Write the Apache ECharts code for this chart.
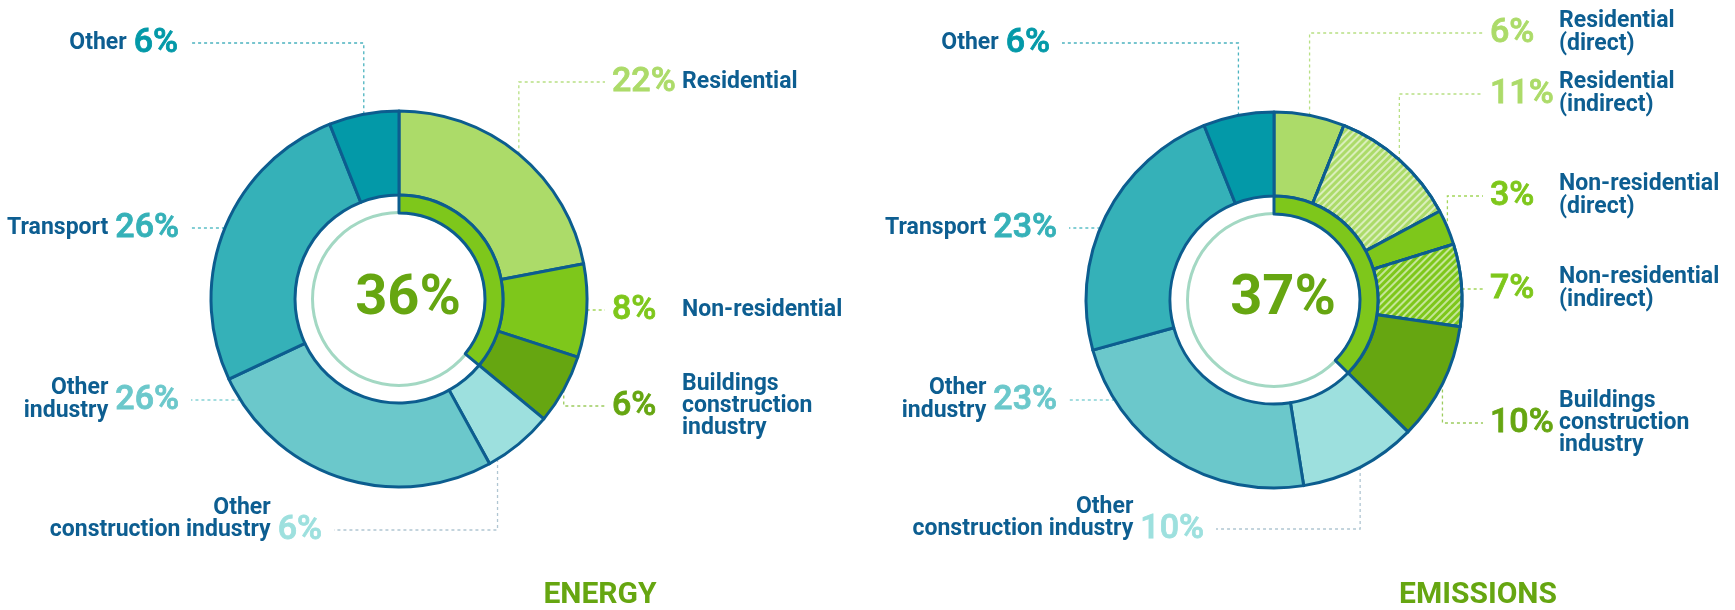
<!DOCTYPE html>
<html>
<head>
<meta charset="utf-8">
<script src="https://cdn.jsdelivr.net/npm/echarts@6/dist/echarts.min.js"></script>
<style>
html, body { margin: 0; padding: 0; background: #fff; }
#main { width: 1735px; height: 610px; }
</style>
</head>
<body>
<div id="main"></div>
<script>
// ---- data ----
var energyNames = ['Residential', 'Non-residential', 'Buildings\nconstruction\nindustry', 'Other\nconstruction industry', 'Other\nindustry', 'Transport', 'Other'];
var energyValues = [22, 8, 6, 6, 26, 26, 6];
var energyBuildingSlices = 3; // first slices that make up the buildings sector

var emissionNames = ['Residential\n(direct)', 'Residential\n(indirect)', 'Non-residential\n(direct)', 'Non-residential\n(indirect)', 'Buildings\nconstruction\nindustry', 'Other\nconstruction industry', 'Other\nindustry', 'Transport', 'Other'];
var emissionValues = [6, 11, 3, 7, 10, 10, 23, 23, 6];
var emissionHatched = [false, true, false, true, false, false, false, false, false];
var emissionBuildingSlices = 5;

// ---- styles / layout ----
var BLUE = '#0d5e91';
var BORDER = '#0c5d8f';
var energyColors = ['#acdb69', '#7ec71b', '#66a611', '#9de0de', '#6bc8cb', '#35b1b8', '#0399a8'];
var energyLineColors = ['#b8e084', '#a3d65a', '#9ccc5e', '#b0c6d2', '#86d2d5', '#5bbfc6', '#4bb3bf'];
var emissionColors = ['#acdb69', '#acdb69', '#7ec71b', '#7ec71b', '#66a611', '#9de0de', '#6bc8cb', '#35b1b8', '#0399a8'];
var emissionLineColors = ['#b8e084', '#b8e084', '#a3d65a', '#a3d65a', '#9ccc5e', '#b0c6d2', '#86d2d5', '#5bbfc6', '#4bb3bf'];

// label placement: [x of number edge, y of number centre, anchor inside slice (null = horizontal line), number row]
var energyLabelPos = [[612, 82, 0.5], [612, 310, null], [612, 406, 0.5], [322, 530, 0.87, 'b'], [179, 400, null], [179, 228, null], [178, 43, 0.5]];
var emissionLabelPos = [[1490, 33, 0.5], [1490, 94, 0.5], [1490, 196, 0.5], [1490, 289, null], [1490, 423, 0.5], [1204, 529, 0.5, 'b'], [1057, 400, null], [1057, 228, null], [1050, 43, 0.5]];

var R_OUT = 188, R_IN = 104, R_RING = 86;

var stripes = {
  symbol: 'rect', symbolSize: 1,
  dashArrayX: [1, 0], dashArrayY: [2, 3],
  rotation: -Math.PI / 4,
  color: 'rgba(255,255,255,0.55)'
};

function makeRich(color, numWidth) {
  var name = { color: BLUE, fontFamily: 'Roboto', fontWeight: 'bold', fontSize: 23, lineHeight: 22 };
  var num = { color: color, fontFamily: 'Roboto', fontWeight: 500, fontSize: 34, lineHeight: 22, textBorderColor: color, textBorderWidth: 0.8 };
  return {
    name: Object.assign({}, name, { align: 'left' }),
    num: Object.assign({}, num, { align: 'left', width: numWidth }),
    numc: Object.assign({}, num, { align: 'left', width: numWidth, lineHeight: 1 }),
    gap: Object.assign({}, num, { align: 'left', width: numWidth, color: 'transparent', textBorderWidth: 0 }),
    nameR: Object.assign({}, name, { align: 'right' }),
    numR: Object.assign({}, num, { align: 'right', padding: [0, 0, 0, 7] }),
    numcR: Object.assign({}, num, { align: 'right', padding: [0, 0, 0, 7], lineHeight: 1 }),
    phR: Object.assign({}, num, { align: 'right', padding: [0, 0, 0, 7], color: 'transparent', textBorderWidth: 0 })
  };
}

function labelText(name, val, right, numAt) {
  var l = name.split('\n');
  var v = val + '%';
  if (right) {
    if (l.length === 1) return '{num|' + v + '}{name|' + l[0] + '}';
    if (l.length === 2) return '{gap| }{name|' + l[0] + '}\n{numc|' + v + '}\n{gap| }{name|' + l[1] + '}';
    return '{gap| }{name|' + l[0] + '}\n{num|' + v + '}{name|' + l[1] + '}\n{gap| }{name|' + l[2] + '}';
  }
  if (l.length === 1) return '{nameR|' + l[0] + '}{numR|' + v + '}';
  if (numAt === 'b') return '{nameR|' + l[0] + '}{phR|' + v + '}\n{nameR|' + l[1] + '}{numR|' + v + '}\n{phR| }';
  return '{nameR|' + l[0] + '}{phR|' + v + '}\n{numcR|' + v + '}\n{nameR|' + l[1] + '}{phR|' + v + '}';
}

function donut(cx, cy, names, values, colors, lineColors, hatched, pos, nBuild, numWidth) {
  var total = 0, starts = [];
  values.forEach(function (v) { starts.push(total); total += v; });
  var share = 0;
  for (var k = 0; k < nBuild; k++) share += values[k];

  var data = values.map(function (v, i) {
    return {
      name: names[i], value: v,
      itemStyle: { color: colors[i], decal: hatched && hatched[i] ? stripes : null },
      label: { rich: makeRich(colors[i], numWidth) },
      labelLine: { lineStyle: { color: lineColors[i] } }
    };
  });

  var outer = {
    type: 'pie', center: [cx, cy], radius: [R_IN, R_OUT],
    startAngle: 90, clockwise: true, avoidLabelOverlap: false,
    itemStyle: { borderColor: BORDER, borderWidth: 3 },
    emphasis: { disabled: true },
    label: {
      show: true, position: 'outside', fontFamily: 'Roboto',
      formatter: function (p) {
        var P = pos[p.dataIndex];
        return labelText(p.name, p.value, P[0] > cx, P[3]);
      }
    },
    labelLine: { show: true, smooth: false, lineStyle: { width: 1.3, type: [3, 3] } },
    labelLayout: function (p) {
      var i = p.dataIndex, P = pos[i], right = P[0] > cx, y = P[1];
      var end = right ? P[0] - 7 : P[0] + 12;
      var pts;
      if (P[2] == null) {
        var dx = Math.sqrt(R_OUT * R_OUT - (y - cy) * (y - cy));
        var ex = right ? cx + dx : cx - dx;
        pts = [[ex, y], [(ex + end) / 2, y], [end, y]];
      } else {
        var a = (starts[i] + P[2] * values[i]) / total * 2 * Math.PI;
        var ax = cx + R_OUT * Math.sin(a), ay = cy - R_OUT * Math.cos(a);
        pts = [[ax, ay], [ax, y], [end, y]];
      }
      return { x: P[0], y: y, align: right ? 'left' : 'right', verticalAlign: 'middle', labelLinePoints: pts };
    },
    data: data
  };

  var thin = {
    type: 'pie', center: [cx, cy], radius: [R_RING - 1, R_RING + 2], silent: true,
    label: { show: false }, labelLine: { show: false },
    itemStyle: { color: '#a3d8c3' },
    data: [{ value: 1 }]
  };

  var ring = {
    type: 'pie', center: [cx, cy], radius: [R_RING, R_IN], silent: true,
    startAngle: 90, clockwise: true,
    label: { show: false }, labelLine: { show: false },
    data: [
      { value: share, itemStyle: { color: '#7ec71b', borderColor: BORDER, borderWidth: 3 } },
      { value: total - share, itemStyle: { color: 'transparent', borderWidth: 0 } }
    ]
  };

  return { series: [thin, outer, ring], share: share };
}

var en = donut(399, 299, energyNames, energyValues, energyColors, energyLineColors, null, energyLabelPos, energyBuildingSlices, 70);
var em = donut(1274, 300, emissionNames, emissionValues, emissionColors, emissionLineColors, emissionHatched, emissionLabelPos, emissionBuildingSlices, 69);

var chart = echarts.init(document.getElementById('main'));
chart.setOption({
  animation: false,
  series: en.series.concat(em.series),
  graphic: [
    { type: 'text', x: 408, y: 300, style: { text: en.share + '%', font: 'bold 56px Roboto', fill: '#66a611', align: 'center', verticalAlign: 'middle' } },
    { type: 'text', x: 1283, y: 300, style: { text: em.share + '%', font: 'bold 56px Roboto', fill: '#66a611', align: 'center', verticalAlign: 'middle' } },
    { type: 'text', x: 600, y: 595, style: { text: 'ENERGY', font: 'bold 30px Roboto', fill: '#66a611', align: 'center', verticalAlign: 'middle' } },
    { type: 'text', x: 1478, y: 595, style: { text: 'EMISSIONS', font: 'bold 30px Roboto', fill: '#66a611', align: 'center', verticalAlign: 'middle' } }
  ]
});
</script>
</body>
</html>
